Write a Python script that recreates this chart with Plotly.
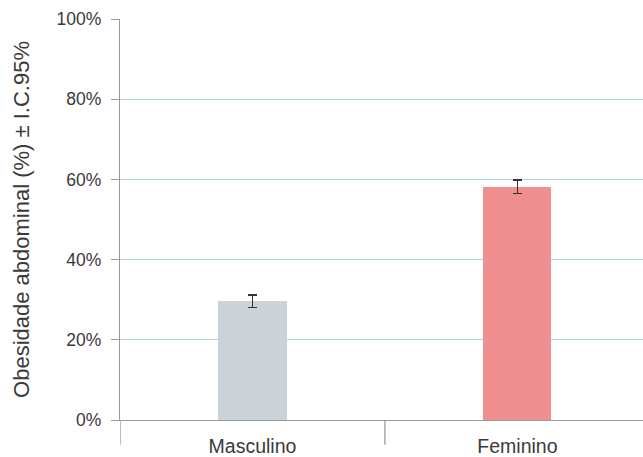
import plotly.graph_objects as go

# Abdominal obesity prevalence by sex, with 95% confidence interval
categories = ["Masculino", "Feminino"]
prevalence = [29.6, 58.2]
ci_half = [1.6, 1.7]
bar_colors = ["#cbd3d8", "#f08f8f"]
y_ticks = [0, 20, 40, 60, 80, 100]
y_tick_labels = [f"{v}%" for v in y_ticks]

font_family = "Liberation Sans Narrow, Arial Narrow, Liberation Sans, Arial, sans-serif"
axis_gray = "#9a9a9a"
grid_color = "#a9d2dc"
text_color = "#3a3a3a"

fig = go.Figure(
    go.Bar(
        x=categories,
        y=prevalence,
        width=0.257,
        marker=dict(color=bar_colors, line=dict(width=0)),
        error_y=dict(
            type="data",
            array=ci_half,
            color="#333333",
            thickness=1.4,
            width=4.5,
        ),
    )
)

fig.update_layout(
    width=643,
    height=457,
    margin=dict(l=120, r=0, t=19, b=37),
    paper_bgcolor="white",
    plot_bgcolor="white",
    showlegend=False,
    font=dict(family=font_family, size=16, color=text_color),
    bargap=0,
)

fig.update_xaxes(
    type="category",
    range=[-0.5, 1.474],
    showgrid=False,
    showline=True,
    linecolor=axis_gray,
    linewidth=1.3,
    ticks="",
    tickfont=dict(size=19.5, color=text_color),
    ticklabelstandoff=8,
    fixedrange=True,
)

fig.update_yaxes(
    range=[0, 100],
    tickvals=y_ticks,
    ticktext=y_tick_labels,
    showgrid=True,
    gridcolor=grid_color,
    gridwidth=1.2,
    showline=True,
    linecolor=axis_gray,
    linewidth=1.3,
    ticks="outside",
    ticklen=8,
    tickcolor=axis_gray,
    tickwidth=1.3,
    tickfont=dict(size=17.5, color=text_color),
    ticklabelstandoff=6,
    zeroline=False,
    title=dict(
        text="Obesidade abdominal (%) ± I.C.95%",
        font=dict(size=22, color=text_color),
        standoff=20,
    ),
    fixedrange=True,
)

# Category boundary ticks hanging below the baseline
for xb in [-0.5, 0.5]:
    fig.add_shape(
        type="line",
        xref="x",
        yref="paper",
        x0=xb,
        x1=xb,
        y0=0,
        y1=-0.062,
        line=dict(color=axis_gray, width=1.3),
    )

fig.write_html("out.html")
